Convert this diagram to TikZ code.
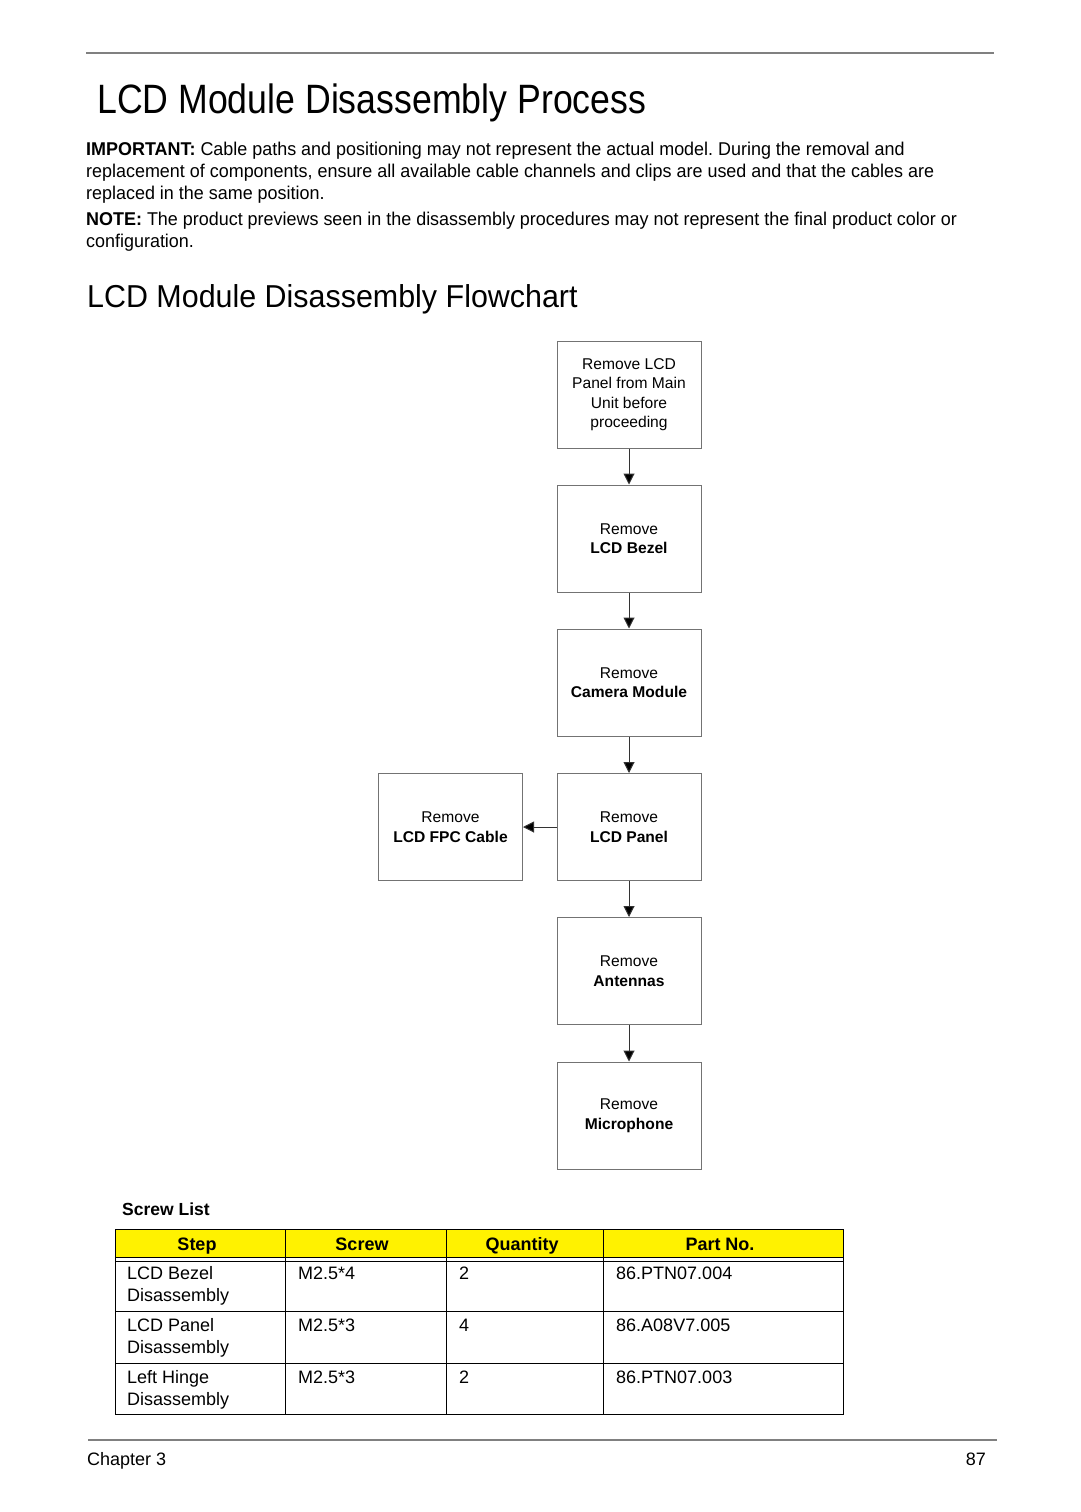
\documentclass[tikz,border=0pt]{standalone}
\usepackage{fontspec}
\setmainfont{Liberation Sans}
\newfontfamily\titlefont[FakeStretch=0.87]{Liberation Sans}
\newfontfamily\headfont[FakeStretch=0.96]{Liberation Sans}
\newfontfamily\bodyfont[FakeStretch=0.97]{Liberation Sans}
\usetikzlibrary{arrows.meta}
\frenchspacing
\begin{document}
\begin{tikzpicture}[x=1pt,y=-1pt,
  txt/.style={anchor=base west,inner sep=0pt,font=\bodyfont\fontsize{18.5}{22}\selectfont},
  tbl/.style={anchor=base west,inner sep=0pt,font=\fontsize{18}{22}\selectfont},
  thd/.style={anchor=base,inner sep=0pt,font=\fontsize{18}{22}\selectfont\bfseries},
  fbox/.style={draw=black!55,line width=1pt,minimum width=144pt,minimum height=107pt,
    align=center,inner sep=2pt,font=\fontsize{15.6}{19.5}\selectfont},
  conn/.style={draw=black!80,line width=1pt,-{Triangle[length=11pt,width=11pt,fill=black]}},
  rule/.style={draw=black!50,line width=2pt},
  grid/.style={draw=black,line width=1pt}]
\useasboundingbox (0,0) rectangle (1080,1512);
% header rule
\draw[rule] (86,53) -- (994,53);
\node[anchor=base west,inner sep=0pt,font=\titlefont\fontsize{41}{45}\selectfont] (title) at (97,113) {LCD Module Disassembly Process};
\node[txt] (l1) at (86,155) {\textbf{IMPORTANT:} Cable paths and positioning may not represent the actual model. During the removal and};
\node[txt] (l2) at (86,177) {replacement of components, ensure all available cable channels and clips are used and that the cables are};
\node[txt] (l3) at (86,199) {replaced in the same position.};
\node[txt] (l4) at (86,225) {\textbf{NOTE:} The product previews seen in the disassembly procedures may not represent the final product color or};
\node[txt] (l5) at (86,247) {configuration.};
\node[anchor=base west,inner sep=0pt,font=\headfont\fontsize{31.7}{36}\selectfont] (sub) at (87,307) {LCD Module Disassembly Flowchart};
% flowchart
\node[fbox] (b1) at (629,394.5) {Remove LCD\\Panel from Main\\Unit before\\proceeding};
\node[fbox] (b2) at (629,538.5) {Remove\\\textbf{LCD Bezel}};
\node[fbox] (b3) at (629,682.5) {Remove\\\textbf{Camera Module}};
\node[fbox] (b4) at (629,827) {Remove\\\textbf{LCD Panel}};
\node[fbox] (b5) at (629,971) {Remove\\\textbf{Antennas}};
\node[fbox] (b6) at (629,1115.5) {Remove\\\textbf{Microphone}};
\node[fbox] (bf) at (450.5,827) {Remove\\\textbf{LCD FPC Cable}};
\draw[conn] (b1) -- (b2);
\draw[conn] (b2) -- (b3);
\draw[conn] (b3) -- (b4);
\draw[conn] (b4) -- (b5);
\draw[conn] (b5) -- (b6);
\draw[conn] (b4) -- (bf);
% screw list
\node[anchor=base west,inner sep=0pt,font=\fontsize{17.5}{21}\selectfont\bfseries] (sl) at (122,1215) {Screw List};
\fill[yellow] (115,1229) rectangle (843,1257);
\draw[grid] (115,1229) rectangle (843,1414);
\draw[grid] (115,1257) -- (843,1257);
\draw[grid] (115,1261.5) -- (843,1261.5);
\draw[grid] (115,1311) -- (843,1311);
\draw[grid] (115,1363) -- (843,1363);
\draw[grid] (285,1229) -- (285,1414);
\draw[grid] (446,1229) -- (446,1414);
\draw[grid] (603,1229) -- (603,1414);
\node[thd] (h1) at (197,1250) {Step};
\node[thd] (h2) at (362,1250) {Screw};
\node[thd] (h3) at (522,1250) {Quantity};
\node[thd] (h4) at (720,1250) {Part No.};
\node[tbl] (r1a) at (127,1279) {LCD Bezel};
\node[tbl] (r1b) at (127,1301) {Disassembly};
\node[tbl] (r1c) at (298,1279) {M2.5*4};
\node[tbl] (r1d) at (459,1279) {2};
\node[tbl] (r1e) at (616,1279) {86.PTN07.004};
\node[tbl] (r2a) at (127,1331) {LCD Panel};
\node[tbl] (r2b) at (127,1353) {Disassembly};
\node[tbl] (r2c) at (298,1331) {M2.5*3};
\node[tbl] (r2d) at (459,1331) {4};
\node[tbl] (r2e) at (616,1331) {86.A08V7.005};
\node[tbl] (r3a) at (127,1383) {Left Hinge};
\node[tbl] (r3b) at (127,1405) {Disassembly};
\node[tbl] (r3c) at (298,1383) {M2.5*3};
\node[tbl] (r3d) at (459,1383) {2};
\node[tbl] (r3e) at (616,1383) {86.PTN07.003};
% footer
\draw[rule] (88,1440) -- (997,1440);
\node[tbl] (ch) at (87,1465) {Chapter 3};
\node[anchor=base east,inner sep=0pt,font=\fontsize{18}{22}\selectfont] (pg) at (986,1465) {87};
\end{tikzpicture}
\end{document}
